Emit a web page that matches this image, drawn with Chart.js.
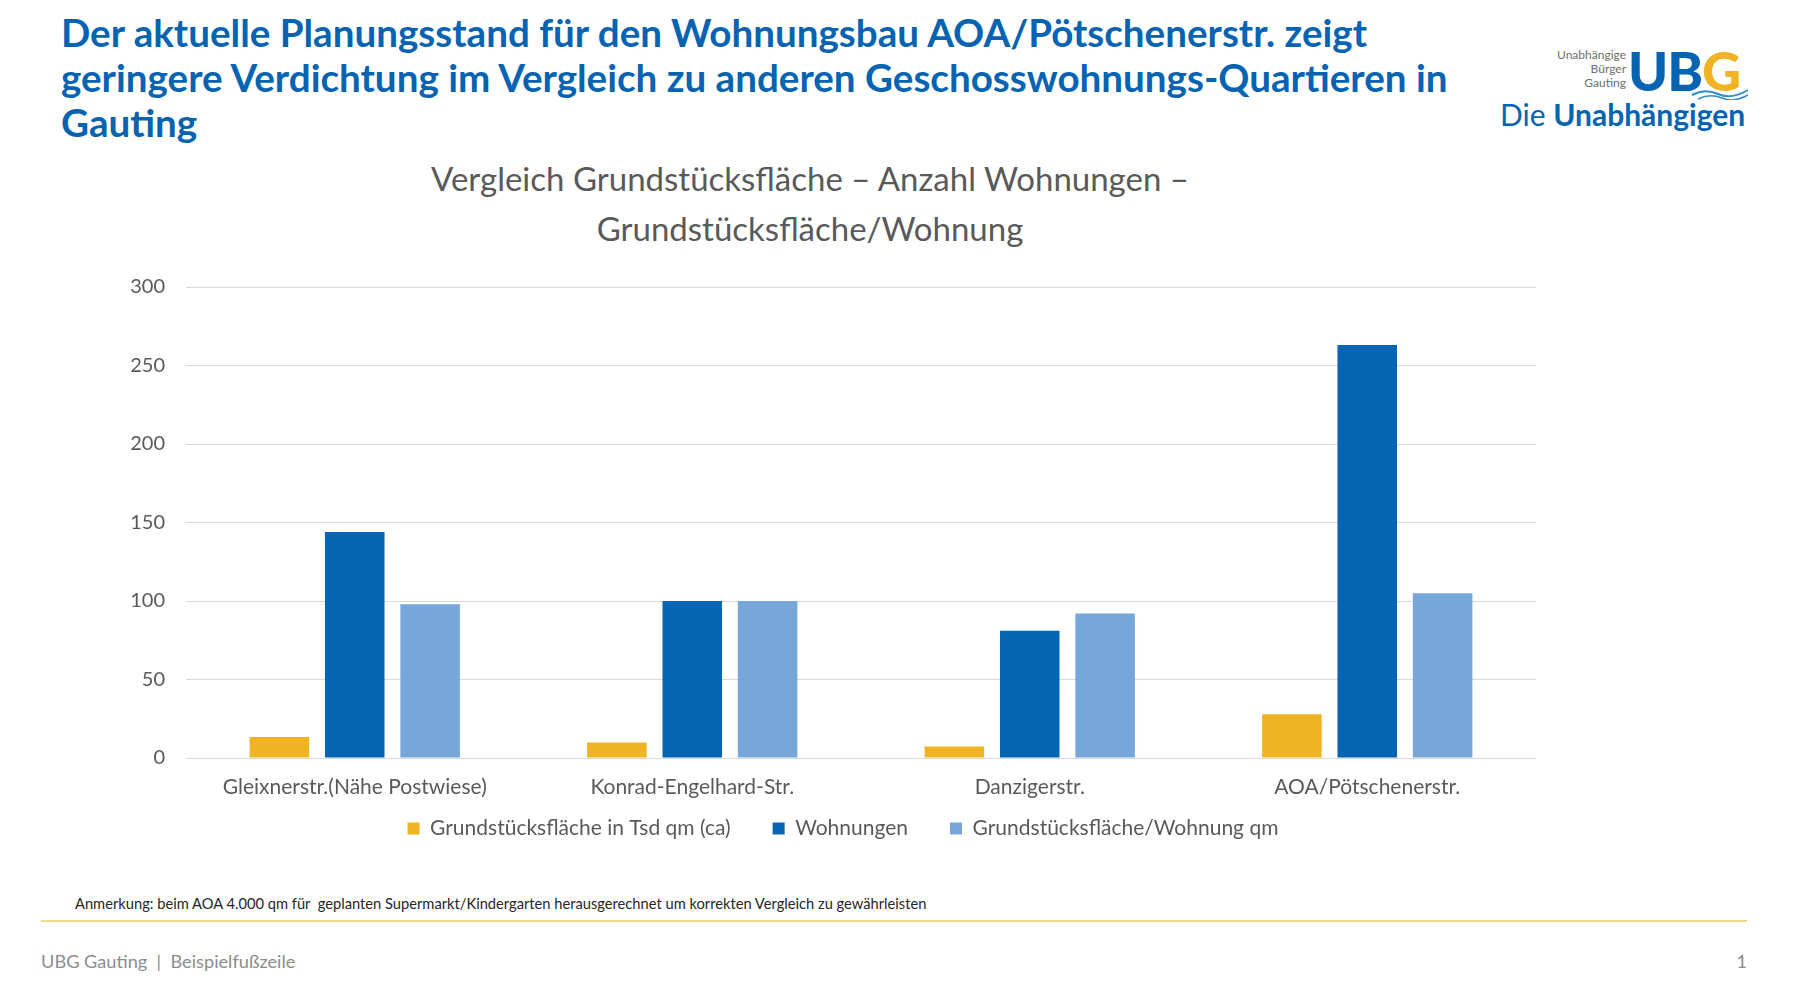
<!DOCTYPE html>
<html>
<head>
<meta charset="utf-8">
<script src="https://cdn.jsdelivr.net/npm/chart.js@4.4.1/dist/chart.umd.min.js"></script>
<style>
  html, body { margin: 0; padding: 0; background: #fff; }
  body { width: 1800px; height: 1000px; position: relative; overflow: hidden; font-family: Lato, sans-serif; }
  .headline { position: absolute; left: 61px; top: 10px; width: 1480px; font-weight: 700; font-size: 38.6px; line-height: 45px; color: #0563b1; white-space: nowrap; }
  .subtitle { position: absolute; left: 360px; top: 153px; width: 900px; text-align: center; font-size: 33px; line-height: 50px; color: #595959; }
  .chart-box { position: absolute; left: 100px; top: 240px; width: 1500px; height: 636px; }
  .note { position: absolute; left: 75px; top: 894px; font-size: 14.7px; color: #262626; }
  .rule { position: absolute; left: 41px; top: 920px; width: 1706px; height: 2px; background: #ecd98c; }
  .footer { position: absolute; left: 41px; top: 950px; font-size: 18.2px; color: #8c8c8c; }
  .pagenum { position: absolute; right: 53px; top: 950px; font-size: 18px; color: #8c8c8c; }
  .logo-small { position: absolute; left: 1540px; top: 48px; width: 86px; text-align: right; font-size: 12px; line-height: 14px; color: #6d6d6d; }
  .logo-ub { position: absolute; left: 1628px; top: 38px; font-size: 54px; font-weight: 900; color: #0563b1; letter-spacing: -1px; }
  .logo-g { color: #f0b323; }
  .logo-name { position: absolute; left: 1500px; top: 96px; font-size: 30px; color: #0563b1; white-space: nowrap; }
  .logo-name b { font-weight: 700; }
</style>
</head>
<body>
<div class="headline">Der aktuelle Planungsstand für den Wohnungsbau AOA/Pötschenerstr. zeigt<br>geringere Verdichtung im Vergleich zu anderen Geschosswohnungs-Quartieren in<br>Gauting</div>

<div class="logo-small">Unabhängige<br>Bürger<br>Gauting</div>
<div class="logo-ub">UB<span class="logo-g">G</span></div>
<svg style="position:absolute;left:1690px;top:86px" width="60" height="14">
  <path d="M2 9 Q 15 2 28 8 T 58 4" fill="none" stroke="#2f8fd0" stroke-width="2"/>
  <path d="M8 13 Q 20 7 32 12 T 58 9" fill="none" stroke="#2f8fd0" stroke-width="1.5"/>
</svg>
<div class="logo-name">Die <b>Unabhängigen</b></div>

<div class="subtitle">Vergleich Grundstücksfläche – Anzahl Wohnungen –<br>Grundstücksfläche/Wohnung</div>

<div class="chart-box"><canvas id="barChart"></canvas></div>

<div class="note">Anmerkung: beim AOA 4.000 qm für&nbsp; geplanten Supermarkt/Kindergarten herausgerechnet um korrekten Vergleich zu gewährleisten</div>
<div class="rule"></div>
<div class="footer">UBG Gauting&nbsp; | &nbsp;Beispielfußzeile</div>
<div class="pagenum">1</div>

<script>
const categories = ['Gleixnerstr.(Nähe Postwiese)', 'Konrad-Engelhard-Str.', 'Danzigerstr.', 'AOA/Pötschenerstr.'];
const flaeche = [13.3, 9.8, 7.3, 27.8];
const wohnungen = [144, 100, 81, 263];
const flaecheProWohnung = [98, 100, 92, 105];
const yTicks = [0, 50, 100, 150, 200, 250, 300];

const grey = '#595959';

// legend spacing needs a big label padding, so pull the legend back up a bit
// and centre it like the office chart does
const legendNudge = {
    id: 'legendNudge',
    afterLayout(chart) {
        const lg = chart.legend;
        lg.top -= 27; lg.bottom -= 27;
        lg.left += 25; lg.right += 25;
    }
};

new Chart(document.getElementById('barChart'), {
    type: 'bar',
    data: {
        labels: categories,
        datasets: [
            { label: 'Grundstücksfläche in Tsd qm (ca)', data: flaeche, backgroundColor: '#f0b323' },
            { label: 'Wohnungen', data: wohnungen, backgroundColor: '#0565b3' },
            { label: 'Grundstücksfläche/Wohnung qm', data: flaecheProWohnung, backgroundColor: '#77a6da' }
        ]
    },
    options: {
        responsive: true,
        maintainAspectRatio: false,
        animation: false,
        datasets: { bar: { categoryPercentage: 0.67, barPercentage: 0.79 } },
        layout: { padding: { left: 0, right: 64, top: 47, bottom: 0 } },
        plugins: {
            legend: {
                position: 'bottom',
                labels: {
                    boxWidth: 12, boxHeight: 12, padding: 42,
                    color: grey, font: { family: 'Lato', size: 21 }
                }
            },
            tooltip: { enabled: false }
        },
        scales: {
            x: {
                grid: { display: false, drawTicks: false },
                border: { display: false },
                ticks: { color: grey, padding: 17, font: { family: 'Lato', size: 21 } },
                afterFit: scale => { scale.height = 45; }
            },
            y: {
                min: 0,
                max: 300,
                grid: { color: '#d9d9d9', drawTicks: false },
                border: { display: false },
                afterBuildTicks: scale => { scale.ticks = yTicks.map(v => ({ value: v })); },
                ticks: { color: grey, padding: 21, font: { family: 'Lato', size: 20 } },
                afterFit: scale => { scale.width = 86; }
            }
        }
    },
    plugins: [legendNudge]
});
</script>
</body>
</html>
